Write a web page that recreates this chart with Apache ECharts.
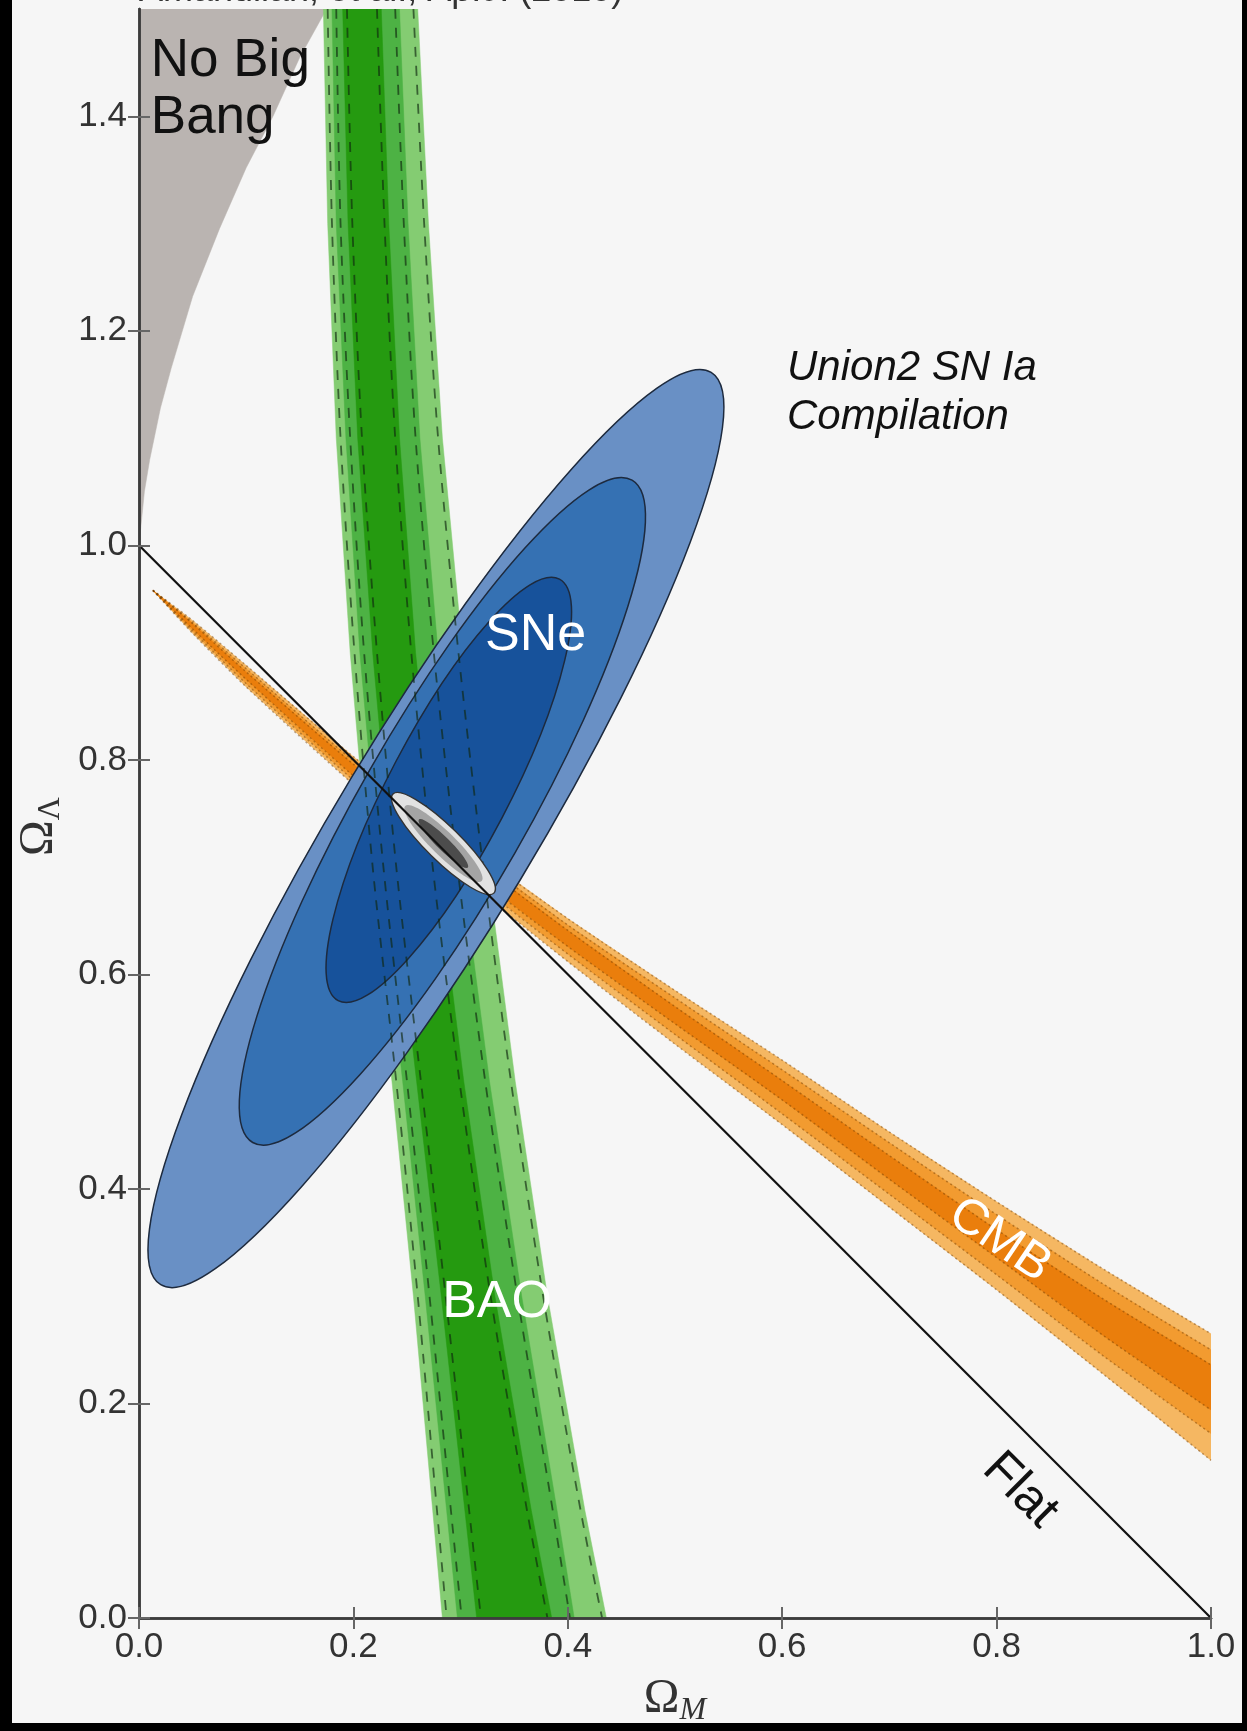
<!DOCTYPE html>
<html><head><meta charset="utf-8">
<script src="https://cdn.jsdelivr.net/npm/echarts@6/dist/echarts.min.js"></script>
<style>
html,body{margin:0;padding:0;background:#000;width:1247px;height:1731px;overflow:hidden}
#c{position:absolute;left:12px;top:0;width:1230px;height:1723px;background:#f6f6f6}
</style></head><body><div id="c"></div>
<script>
// ---------- data ----------
const xTicks = [0, 0.2, 0.4, 0.6, 0.8, 1.0];
const yTicks = [0, 0.2, 0.4, 0.6, 0.8, 1.0, 1.2, 1.4];

// "No Big Bang" boundary (Omega_M, Omega_Lambda)
const noBigBangX = [0, 0.005, 0.01, 0.02, 0.03, 0.05, 0.075, 0.1, 0.125, 0.15, 0.175];
const noBigBangY = [1.0, 1.05, 1.08, 1.128, 1.165, 1.232, 1.295, 1.352, 1.40, 1.455, 1.5];

// BAO band edges (x positions at given Omega_Lambda levels)
const baoY        = [1.5, 1.3, 1.1, 0.9, 0.7, 0.5, 0.3, 0.1, 0.0];
const baoOuterL   = [0.172, 0.176, 0.184, 0.197, 0.214, 0.236, 0.256, 0.274, 0.283];
const baoMidL     = [0.180, 0.184, 0.193, 0.206, 0.224, 0.246, 0.267, 0.287, 0.297];
const baoInnerL   = [0.190, 0.195, 0.204, 0.218, 0.236, 0.259, 0.282, 0.304, 0.315];
const baoInnerR   = [0.226, 0.233, 0.243, 0.258, 0.278, 0.303, 0.332, 0.366, 0.385];
const baoMidR     = [0.243, 0.251, 0.262, 0.279, 0.301, 0.327, 0.357, 0.390, 0.406];
const baoOuterR   = [0.260, 0.270, 0.283, 0.302, 0.325, 0.351, 0.381, 0.416, 0.436];

// CMB band edges (Omega_Lambda at given Omega_M)
const cmbX        = [0.013, 0.05, 0.1, 0.2, 0.3, 0.4, 0.5, 0.6, 0.7, 0.8, 0.9, 1.0];
const cmbOuterTop = [0.958, 0.930, 0.888, 0.803, 0.724, 0.652, 0.585, 0.520, 0.453, 0.388, 0.325, 0.265];
const cmbMidTop   = [0.958, 0.928, 0.885, 0.799, 0.720, 0.646, 0.578, 0.511, 0.443, 0.376, 0.311, 0.250];
const cmbInnerTop = [0.958, 0.927, 0.882, 0.796, 0.716, 0.641, 0.570, 0.501, 0.431, 0.362, 0.297, 0.236];
const cmbInnerBot = [0.958, 0.922, 0.875, 0.785, 0.702, 0.626, 0.554, 0.483, 0.409, 0.336, 0.263, 0.194];
const cmbMidBot   = [0.958, 0.920, 0.871, 0.781, 0.697, 0.619, 0.544, 0.470, 0.395, 0.320, 0.244, 0.172];
const cmbOuterBot = [0.958, 0.918, 0.868, 0.777, 0.692, 0.612, 0.535, 0.460, 0.383, 0.306, 0.227, 0.147];

// SNe confidence ellipses: outer, middle, inner
const sneCx    = [0.277, 0.283, 0.289];
const sneCy    = [0.736, 0.752, 0.772];
const sneSemiA = [0.497, 0.356, 0.222];
const sneSemiB = [0.092, 0.078, 0.056];
const sneAngle = [58.9, 60.2, 62.3];

// combined constraint (small grey ellipse)
const combCx    = [0.284, 0.284, 0.284];
const combCy    = [0.722, 0.722, 0.722];
const combSemiA = [0.066, 0.050, 0.032];
const combSemiB = [0.016, 0.011, 0.006];
const combAngle = [-44.5, -44.5, -44.5];

// flat universe line
const flatX = [0, 1];
const flatY = [1, 0];

// ---------- helpers ----------
const zip = (xs, ys) => xs.map((x, i) => [x, ys[i]]);
const SANS = '"Liberation Sans", Arial, sans-serif';
const SERIF = '"Liberation Serif", "DejaVu Serif", serif';

function polySeries(name, pts, fill, z) {
  return {
    type: 'custom', name, z, silent: true, clip: true,
    coordinateSystem: 'cartesian2d',
    data: pts,
    renderItem: (params, api) => {
      if (params.dataIndex !== 0) return null;
      return {
        type: 'polygon',
        shape: { points: pts.map(p => api.coord(p)) },
        style: { fill, stroke: fill, lineWidth: 0.5 }
      };
    }
  };
}
function bandV(left, right, ys) {
  return zip(left, ys).concat(zip(right, ys).reverse());
}
function bandH(xs, top, bot) {
  return zip(xs, top).concat(zip(xs, bot).reverse());
}
function ellipseSeries(name, cx, cy, a, b, ang, idx, fill, stroke, lw, z) {
  return {
    type: 'custom', name, z, silent: true, clip: true,
    coordinateSystem: 'cartesian2d',
    data: [[cx[idx], cy[idx], a[idx], b[idx], ang[idx]]],
    renderItem: (params, api) => {
      const c = api.coord([api.value(0), api.value(1)]);
      const s = api.size([api.value(2), api.value(3)]);
      return {
        type: 'ellipse', x: c[0], y: c[1],
        rotation: api.value(4) * Math.PI / 180,
        shape: { cx: 0, cy: 0, rx: s[0], ry: s[1] },
        style: { fill, stroke, lineWidth: lw }
      };
    }
  };
}
function dashSeries(name, pts, color, width, dash, z) {
  return {
    type: 'line', name, z, silent: true, data: pts, showSymbol: false, smooth: 0.3,
    clip: true, animation: false,
    lineStyle: { color, width, type: dash }
  };
}

// ---------- colours ----------
const C = {
  nbb: '#bab4b1',
  baoL: '#84cc72', baoM: '#4db244', baoD: '#259a10',
  cmbL: '#f5b762', cmbM: '#f29b30', cmbD: '#ea7e0c',
  sneL: '#6990c5', sneM: '#3571b3', sneD: '#17529b', sneEdge: '#1d2a3e',
  combL: '#e2e2e2', combM: '#a4a4a4', combD: '#4c4c4c'
};

const series = [];
series.push(polySeries('nbb', zip(noBigBangX, noBigBangY).concat([[0, 1.5]]), C.nbb, 1));
series.push(polySeries('baoL', bandV(baoOuterL, baoOuterR, baoY), C.baoL, 2));
series.push(polySeries('baoM', bandV(baoMidL, baoMidR, baoY), C.baoM, 2.1));
series.push(polySeries('baoD', bandV(baoInnerL, baoInnerR, baoY), C.baoD, 2.2));
series.push(polySeries('cmbL', bandH(cmbX, cmbOuterTop, cmbOuterBot), C.cmbL, 3));
series.push(polySeries('cmbM', bandH(cmbX, cmbMidTop, cmbMidBot), C.cmbM, 3.1));
series.push(polySeries('cmbD', bandH(cmbX, cmbInnerTop, cmbInnerBot), C.cmbD, 3.2));
// CMB dotted contour lines
[cmbOuterTop, cmbMidTop, cmbInnerTop, cmbInnerBot, cmbMidBot, cmbOuterBot]
  .forEach((edge, i) => series.push(dashSeries('cmbDot' + i, zip(cmbX, edge), 'rgba(110,60,0,0.45)', 1.5, [2, 3], 3.5)));
// SNe ellipses
series.push(ellipseSeries('sneL', sneCx, sneCy, sneSemiA, sneSemiB, sneAngle, 0, C.sneL, C.sneEdge, 1.5, 4));
series.push(ellipseSeries('sneM', sneCx, sneCy, sneSemiA, sneSemiB, sneAngle, 1, C.sneM, C.sneEdge, 1.5, 4.1));
series.push(ellipseSeries('sneD', sneCx, sneCy, sneSemiA, sneSemiB, sneAngle, 2, C.sneD, C.sneEdge, 1.5, 4.2));
// BAO dashed contour lines (drawn over SNe)
[baoOuterL, baoMidL, baoInnerL, baoInnerR, baoMidR, baoOuterR].forEach((edge, i) => {
  const shift = i < 3 ? 0.004 : -0.004;
  series.push(dashSeries('baoDash' + i, zip(edge.map(v => v + shift), baoY), 'rgba(15,40,15,0.65)', 1.8, [10, 9], 5));
});
// combined
series.push(ellipseSeries('combL', combCx, combCy, combSemiA, combSemiB, combAngle, 0, C.combL, '#333', 1.4, 6));
series.push(ellipseSeries('combM', combCx, combCy, combSemiA, combSemiB, combAngle, 1, C.combM, 'none', 0, 6.1));
series.push(ellipseSeries('combD', combCx, combCy, combSemiA, combSemiB, combAngle, 2, C.combD, 'none', 0, 6.2));
// flat line
series.push({
  type: 'line', name: 'flat', z: 7, silent: true, data: zip(flatX, flatY), showSymbol: false,
  lineStyle: { color: '#111', width: 2.2 }
});
// annotations
const annotations = [
  { text: 'No Big\nBang', at: [0.011, 1.478], size: 53, style: 'normal', fill: '#111', align: 'left', va: 'top', lh: 57, rot: 0 },
  { text: 'Union2 SN Ia\nCompilation', at: [0.6045, 1.1875], size: 42, style: 'italic', fill: '#111', align: 'left', va: 'top', lh: 49, rot: 0 },
  { text: 'SNe', at: [0.370, 0.916], size: 52, style: 'normal', fill: '#fff', align: 'center', va: 'middle', lh: 56, rot: 0 },
  { text: 'BAO', at: [0.334, 0.294], size: 52, style: 'normal', fill: '#fff', align: 'center', va: 'middle', lh: 56, rot: 0 },
  { text: 'CMB', at: [0.803, 0.352], size: 50, style: 'normal', fill: '#fff', align: 'center', va: 'middle', lh: 56, rot: -34 },
  { text: 'Flat', at: [0.822, 0.119], size: 50, style: 'normal', fill: '#111', align: 'center', va: 'middle', lh: 56, rot: -45 }
];
series.push({
  type: 'custom', name: 'labels', z: 9, silent: true, coordinateSystem: 'cartesian2d',
  data: annotations.map(a => a.at),
  renderItem: (params, api) => {
    const a = annotations[params.dataIndex];
    const p = api.coord(a.at);
    return {
      type: 'text', x: p[0], y: p[1], rotation: a.rot * Math.PI / 180,
      style: {
        text: a.text, fill: a.fill, fontSize: a.size, fontFamily: SANS, fontStyle: a.style,
        align: a.align, verticalAlign: a.va, lineHeight: a.lh
      }
    };
  }
});

const axisLine = { show: true, lineStyle: { color: '#3c3c3c', width: 2.5 } };
const tickStyle = { color: '#666', width: 2 };
const tickLabelBase = { fontSize: 35, fontFamily: SANS, color: '#333', margin: 12, formatter: v => v.toFixed(1) };

const nameRich = (subItalic, padRight) => ({
  o: { fontSize: 48, fontFamily: SERIF, color: '#333', lineHeight: 40, verticalAlign: 'bottom', padding: [0, 0, 4, 0] },
  s: { fontSize: 32, fontFamily: SERIF, fontStyle: subItalic ? 'italic' : 'normal', color: '#333', verticalAlign: 'bottom', padding: [0, padRight, 0, 0] }
});

const option = {
  animation: false,
  backgroundColor: '#f6f6f6',
  grid: { left: 127, right: 31, top: 9, bottom: 105, containLabel: false, outerBoundsMode: 'none' },
  xAxis: [
    {
      type: 'value', min: 0, max: 1, interval: 0.2, position: 'bottom', z: 20,
      axisLine,
      axisTick: { show: true, inside: true, length: 11, lineStyle: tickStyle, customValues: xTicks },
      axisLabel: Object.assign({}, tickLabelBase, { customValues: xTicks }),
      splitLine: { show: false },
      name: '{o|Ω}{s|M}', nameLocation: 'middle', nameGap: 69,
      nameTextStyle: { rich: nameRich(true, 0) }
    },
    {
      type: 'value', min: 0, max: 1, interval: 0.2, position: 'top', z: 20,
      axisLine,
      axisTick: { show: true, inside: true, length: 11, lineStyle: tickStyle, customValues: xTicks },
      axisLabel: { show: false }, splitLine: { show: false }
    }
  ],
  yAxis: [
    {
      type: 'value', min: 0, max: 1.5, interval: 0.2, position: 'left', z: 20,
      axisLine,
      axisTick: { show: true, inside: true, length: 11, lineStyle: tickStyle, customValues: yTicks },
      axisLabel: Object.assign({}, tickLabelBase, { customValues: yTicks }),
      splitLine: { show: false },
      name: '{o|Ω}{s|Λ}', nameLocation: 'middle', nameGap: 72, nameRotate: 90,
      nameTextStyle: { rich: nameRich(false, 26) }
    },
    {
      type: 'value', min: 0, max: 1.5, interval: 0.2, position: 'right', z: 20,
      axisLine,
      axisTick: { show: true, inside: true, length: 11, lineStyle: tickStyle, customValues: yTicks },
      axisLabel: { show: false }, splitLine: { show: false }
    }
  ],
  graphic: [
    { type: 'text', x: 127, y: 9, z: 30, style: { text: 'Amanullah, et al., Ap.J. (2010)', fontSize: 36, fontFamily: SANS, fill: '#333', verticalAlign: 'bottom' } }
  ],
  series
};

const chart = echarts.init(document.getElementById('c'), null, { renderer: 'canvas' });
chart.setOption(option);
</script>
</body></html>
